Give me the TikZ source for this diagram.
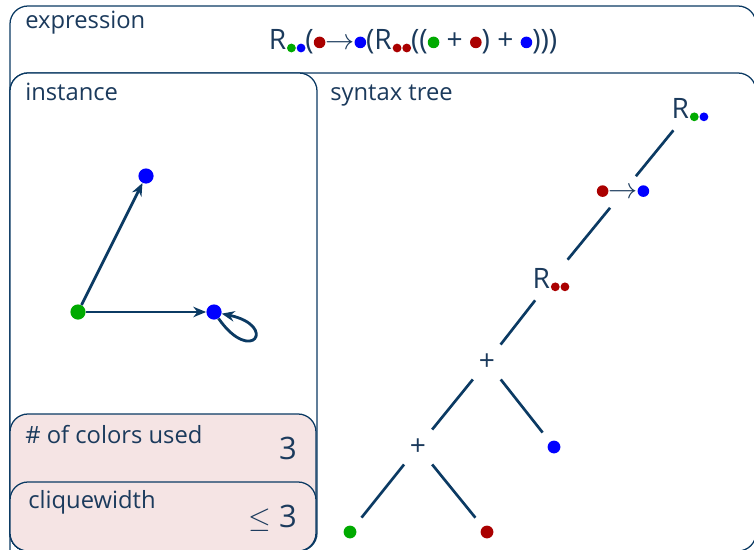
\documentclass[tikz,border=0pt]{standalone}
\usepackage{fontspec}
\setmainfont{Open Sans}
\usetikzlibrary{arrows.meta,positioning}
\definecolor{InkNavy}{HTML}{0B3A63}
\definecolor{TextNavy}{HTML}{1B3A5C}
\definecolor{PanelPink}{HTML}{F5E4E4}
\definecolor{DotGreen}{HTML}{00AA00}
\definecolor{DotBlue}{HTML}{0000FF}
\definecolor{DotRed}{HTML}{AA0000}
\newcommand{\bigdot}[1]{\tikz[baseline=-1.9mm]\fill[#1] (0,0) circle (1.45mm);}
\newcommand{\subdot}[1]{\hspace{0.6pt}\tikz[baseline=-0.5mm]\fill[#1] (0,0) circle (1.1mm);}

\begin{document}
\begin{tikzpicture}[
    panel/.style={draw=InkNavy, line width=0.9pt, rounded corners=0.45cm},
    lbl/.style={anchor=base west, inner sep=0, text=TextNavy, font=\fontsize{16.9}{20}\selectfont},
    val/.style={anchor=base east, inner sep=0, text=TextNavy, font=\fontsize{22}{26}\selectfont},
    vtx/.style={circle, inner sep=0, minimum size=3.8mm},
    arr/.style={-{Stealth[length=3.2mm, width=2.6mm]}, draw=InkNavy, line width=2pt},
    op/.style={inner sep=0.22cm, text=TextNavy, font=\fontsize{20}{24}\selectfont},
    leaf/.style={circle, inner sep=0, minimum size=3.2mm, outer sep=0.3cm},
    branch/.style={draw=InkNavy, line width=1.9pt}
  ]
    \useasboundingbox (0,0) rectangle (18.85,13.725);
    \clip (0,0) rectangle (18.85,13.725);

    % Panels
    \draw[panel, fill=white] (0.25,-1) rectangle (18.9,13.575);
    \draw[panel, fill=white] (0.25,-0.05) rectangle (18.9,11.9);
    \draw[panel, fill=white] (0.25,-0.05) rectangle (7.925,11.9);
    \draw[panel, fill=PanelPink] (0.25,-0.05) rectangle (7.9,3.375);
    \draw[panel, fill=PanelPink] (0.25,-0.05) rectangle (7.9,1.675);

    % Panel titles
    \node[lbl] (exprlbl) at (0.625,13.025) {expression};
    \node[lbl] (instlbl) at (0.625,11.225) {instance};
    \node[lbl] (treelbl) at (8.25,11.225) {syntax tree};
    \node[lbl] (colorlbl) at (0.625,2.65) {\# of colors used};
    \node[lbl] (cwlbl) at (0.7,1.025) {cliquewidth};
    \node[val] (colorval) at (7.425,2.25) {3};
    \node[val] (cwval) at (7.425,0.55) {$\leq$ 3};

    % Expression
    \node[anchor=base, inner sep=0, text=TextNavy, font=\fontsize{20}{24}\selectfont] (expr) at (10.325,12.475)
      {R\subdot{DotGreen}\subdot{DotBlue}(\bigdot{DotRed}$\rightarrow$\bigdot{DotBlue}(R\subdot{DotRed}\subdot{DotRed}((\bigdot{DotGreen} + \bigdot{DotRed}) + \bigdot{DotBlue})))};

    % Instance
    \node[vtx, fill=DotGreen] (g) at (1.95,5.925) {};
    \node[vtx, fill=DotBlue] (bt) at (3.65,9.325) {};
    \node[vtx, fill=DotBlue] (br) at (5.35,5.925) {};
    \draw[arr] (g) -- (bt);
    \draw[arr] (g) -- (br);
    \draw[arr] (br) to[out=-55, in=-12, min distance=1.45cm] (br);

    % Syntax tree
    \node[op] (root) at (17.25,10.975) {R\subdot{DotGreen}\subdot{DotBlue}};
    \node[op] (map) at (15.575,8.925) {\bigdot{DotRed}$\rightarrow$\bigdot{DotBlue}};
    \node[op] (ren) at (13.775,6.725) {R\subdot{DotRed}\subdot{DotRed}};
    \node[op] (sumA) at (12.175,4.675) {+};
    \node[op] (sumB) at (10.45,2.55) {+};
    \node[leaf, fill=DotBlue] (lb) at (13.85,2.55) {};
    \node[leaf, fill=DotGreen] (lg) at (8.75,0.425) {};
    \node[leaf, fill=DotRed] (lr) at (12.175,0.425) {};

    \draw[branch] (root) -- (map);
    \draw[branch] (map) -- (ren);
    \draw[branch] (ren) -- (sumA);
    \draw[branch] (sumA) -- (sumB);
    \draw[branch] (sumA) -- (lb);
    \draw[branch] (sumB) -- (lg);
    \draw[branch] (sumB) -- (lr);
  \end{tikzpicture}
\end{document}
